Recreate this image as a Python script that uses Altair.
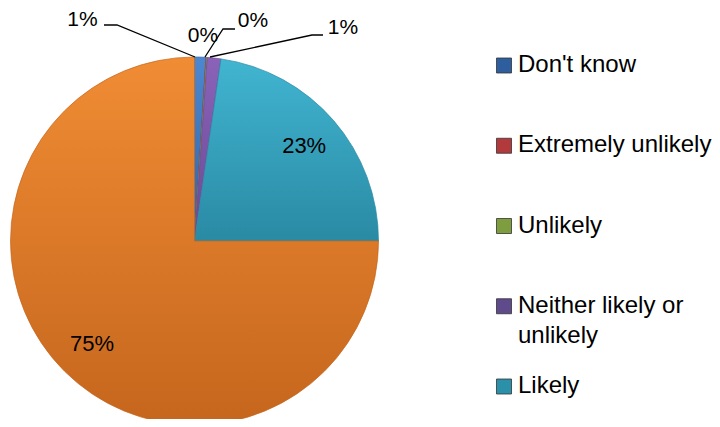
import math
import altair as alt
import pandas as pd

# ---- data ----
categories = ["Don't know", "Extremely unlikely", "Unlikely",
              "Neither likely or unlikely", "Likely", "Very likely"]
values = [1.0, 0.05, 0.05, 1.2, 22.7, 75.0]
pct_labels = ["1%", "0%", "0%", "1%", "23%", "75%"]
legend_names = ["Don't know", "Extremely unlikely", "Unlikely",
                "Neither likely or\nunlikely", "Likely"]

# ---- styles ----
FONT = "Liberation Sans"
CX, CY, R = 186.5, 233, 184
slice_colors = {
    "Don't know": ("#4C88D0", "#2F63A6"),
    "Extremely unlikely": ("#C9484A", "#A03033"),
    "Unlikely": ("#9BBB59", "#7A9A3A"),
    "Neither likely or unlikely": ("#8A63B8", "#6A4896"),
    "Likely": ("#41B5D1", "#2A8AA4"),
    "Very likely": ("#F08C34", "#C5661D"),
}
legend_colors = ["#2F5E9E", "#B23A3C", "#7E9D3E", "#5F4B8B", "#2B91AB"]

df = pd.DataFrame({"cat": categories, "value": values,
                   "label": pct_labels, "order": list(range(len(categories)))})
total = sum(values)
theta_scale = alt.Scale(domain=[0, total], range=[0, 2 * math.pi])

base = (alt.Chart(df)
        .transform_window(end="sum(value)", sort=[alt.SortField("order")], frame=[None, 0])
        .transform_calculate(start="datum.end - datum.value",
                             mid="datum.end - datum.value / 2"))

layers = []
for cat in categories:
    top, bot = slice_colors[cat]
    grad = alt.LinearGradient(
        gradient="linear",
        stops=[alt.GradientStop(color=top, offset=0), alt.GradientStop(color=bot, offset=1)],
        x1=0, x2=0, y1=0, y2=1)
    layers.append(
        base.transform_filter(alt.datum.cat == cat)
        .mark_arc(outerRadius=R, x=CX, y=CY, fill=grad, stroke=bot, strokeWidth=0.7)
        .encode(theta=alt.Theta("start:Q", scale=theta_scale), theta2="end:Q")
    )

inner = (base.transform_filter(alt.FieldOneOfPredicate(field="cat", oneOf=["Likely", "Very likely"]))
         .mark_text(radius=145, x=CX, y=CY, font=FONT, fontSize=22, color="#000000",
                    align="center", baseline="middle")
         .encode(theta=alt.Theta("mid:Q", scale=theta_scale), text="label:N"))

# outside labels (annotation positions)
outer_df = pd.DataFrame({
    "label": [pct_labels[0], pct_labels[1], pct_labels[2], pct_labels[3]],
    "px": [74.5, 195, 245, 335],
    "py": [12, 28, 12.5, 19.5],
})
outer = alt.Chart(outer_df).mark_text(font=FONT, fontSize=21, color="#000000",
                                      align="center", baseline="middle").encode(
    x=alt.X("px:Q", scale=None), y=alt.Y("py:Q", scale=None), text="label:N")

leader_df = pd.DataFrame({
    "g": [0, 0, 0, 1, 1, 1, 2, 2, 2],
    "s": [0, 1, 2, 0, 1, 2, 0, 1, 2],
    "px": [96, 109, 187, 227, 215, 197, 315, 304, 202],
    "py": [17, 17, 49, 21, 21, 49, 27, 27, 49],
})
leaders = alt.Chart(leader_df).mark_line(color="#000000", strokeWidth=1.3).encode(
    x=alt.X("px:Q", scale=None), y=alt.Y("py:Q", scale=None),
    detail="g:N", order="s:Q")

leg_df = pd.DataFrame({"name": legend_names})
leg_y = alt.Y("name:N", scale=alt.Scale(domain=legend_names, range=[57.5, 378.5], padding=0), axis=None)
leg_sq = alt.Chart(leg_df).mark_square(size=225, opacity=1, strokeWidth=0.8, stroke="#333333").encode(
    x=alt.value(496), y=leg_y,
    fill=alt.Fill("name:N", scale=alt.Scale(domain=legend_names, range=legend_colors), legend=None))
leg_txt = alt.Chart(leg_df).mark_text(font=FONT, fontSize=24, color="#000000", align="left",
                                      baseline="top", dy=-12.5, lineBreak="\n", lineHeight=30).encode(
    x=alt.value(510), y=leg_y, text="name:N")

chart = (alt.layer(*layers, inner, leaders, outer, leg_sq, leg_txt)
         .resolve_scale(y="independent", x="independent")
         .properties(width=704, height=411, padding=0, autosize=alt.AutoSizeParams(type="none"))
         .configure_view(stroke=None))

chart.save("out.html", embed_options={"renderer": "svg", "actions": False})
